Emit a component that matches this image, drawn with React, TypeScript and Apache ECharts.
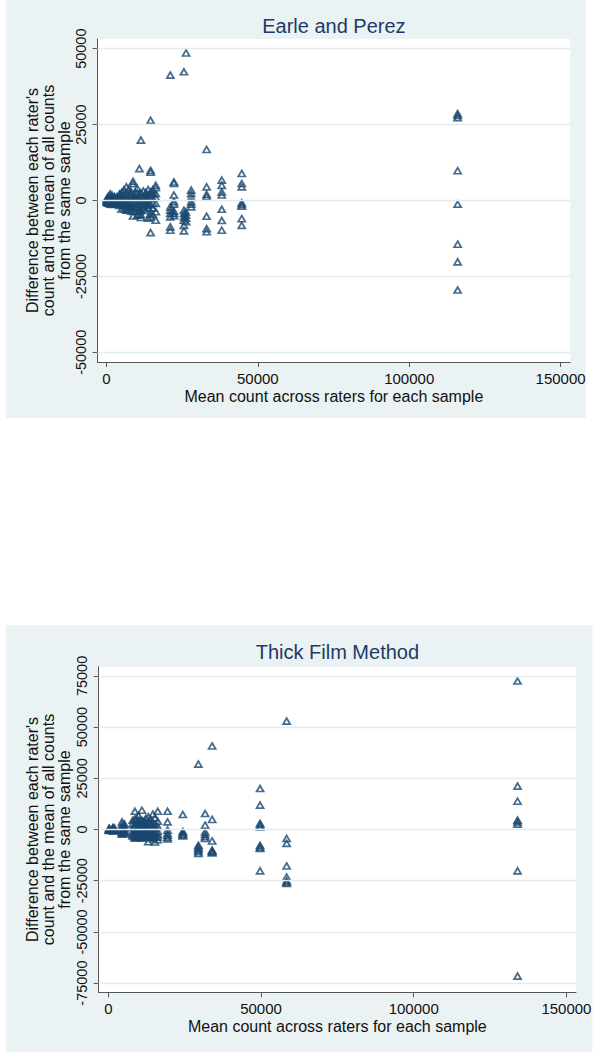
import React, { useEffect, useRef } from "react";
import * as echarts from "echarts";

// ---- tick labels ----
const xTicks = [0, 50000, 100000, 150000];
const epYTicks = [-50000, -25000, 0, 25000, 50000];
const tfYTicks = [-75000, -50000, -25000, 0, 25000, 50000, 75000];

// ---- Earle and Perez: mean count per sample, and each rater's difference ----
const epMeans = [
  200, 700, 1300, 1900, 2700, 3500, 4300, 5000, 5800, 6600, 7300, 8100, 8800, 9500,
  10200, 10900, 11400, 12200, 13000, 13800, 14600, 15300, 16300, 21100, 22300, 25600,
  26300, 28000, 33100, 38100, 44700, 116000,
];
const epDiffs = [
  [700, 400, 100, -200, -400, -600],
  [1500, 900, 300, -300, -700, -900],
  [2200, 1200, 300, -500, -900, -1200],
  [1700, 1000, 400, -300, -800, -1300],
  [1300, 700, 200, -400, -700, -1100],
  [1200, 600, 100, -300, -600, -900],
  [2100, 1300, 400, -500, -1000, -1600],
  [2600, 1500, 400, -700, -1300, -2800],
  [3500, 2000, 700, -800, -1700, -2700],
  [4500, 2400, 800, -1100, -2100, -3200],
  [3700, 1800, 500, -700, -1600, -3000],
  [3000, 2100, 1000, -900, -1800, -3400],
  [6300, 5500, 1500, -1800, -3600, -5100],
  [2700, 1400, 700, -500, -1300, -2600],
  [4000, 2500, 900, -1200, -2200, -4800],
  [10500, 2000, 300, -2200, -3400, -4600],
  [19900, 2500, -1500, -3200, -4700, -5600],
  [3100, 1300, 400, -700, -1400, -2800],
  [2600, 1100, -200, -900, -1600, -3300],
  [3600, 1900, 600, -1200, -2300, -5800],
  [26400, 9900, 9300, 2800, 1200, -1500, -4300, -5400, -10600],
  [3500, 2200, 800, -800, -2500, -4600],
  [5000, 4200, 2300, 1000, -1000, -3700, -6500],
  [41300, -2100, -3200, -4300, -5400, -8700, -9800],
  [6100, 5600, 1800, -400, -1200, -3500, -4300, -5000],
  [42400, -3200, -4300, -5400, -6500, -8200, -10000],
  [48600, -3800, -4800, -5800, -7000],
  [3400, 2300, 1000, -400, -1200, -2100],
  [16800, 4500, 2000, 1300, -5200, -9300, -10300],
  [6700, 5000, 2800, 1800, -2900, -6600, -9800],
  [8900, 5600, 4500, -800, -1400, -1900, -6000, -8200],
  [28600, 28000, 27300, 9800, -1200, -14400, -20200, -29500],
];

// ---- Thick Film Method ----
const tfMeans = [
  300, 1500, 2000, 4500, 5300, 8000, 8700, 9300, 9900, 10500, 11000, 11700, 12300,
  13100, 13800, 14600, 15300, 16200, 19400, 24400, 29500, 31700, 34000, 49700, 58400,
  134000,
];
const tfDiffs = [
  [600, 300, 100, -100, -300, -500],
  [900, 500, 100, -200, -500, -700],
  [700, 300, 0, -300, -600],
  [3700, 2500, 1200, -400, -1300, -2200, -2000],
  [2600, 1500, 300, -700, -1500, -2000, -1100],
  [4500, 2800, 900, -1000, -2500, -3200, -2300],
  [8900, 5200, 1800, -1500, -3200, -4300, -3600],
  [5200, 3400, 1200, -900, -2600, -3700, -2900],
  [6800, 4300, 1600, -1200, -2900, -3900, -3500],
  [4700, 2900, 700, -1400, -2700, -3600, -2100],
  [9400, 4300, 2100, -1500, -3300, -4200, -3800],
  [4100, 2400, 600, -1100, -2400, -3300, -2000],
  [5500, 3100, 1000, -900, -2300, -3500, -2700],
  [6200, 3900, 1300, -1500, -3000, -6000, -2600],
  [4800, 2700, 800, -1200, -2700, -3800, -2300],
  [7500, 3300, 1100, -1800, -3500, -4500, -2800],
  [5600, 2600, 600, -1400, -2900, -6100, -3700],
  [8900, 4000, 1500, -900, -2400, -3600, -5000],
  [8900, 3700, -300, -1900, -2800, -3700, -4600],
  [7300, -1000, -1600, -2200, -2700, -3100],
  [31900, -7700, -8400, -9200, -10000, -10800, -11700],
  [7800, 2100, -1200, -2400, -3500, -4400],
  [40800, 4900, -5600, -10100, -10600, -11000, -11400],
  [20000, 11900, 3000, 2300, 1300, -7700, -8600, -9300, -20200],
  [52900, -4400, -6800, -17800, -23200, -25100, -25800, -26400],
  [72500, 21200, 13800, 4600, 3700, 2600, -20200, -71600],
];

const titles = ["Earle and Perez", "Thick Film Method"];
const xTitle = "Mean count across raters for each sample";
const yTitle = "Difference between each rater's\ncount and the mean of all counts\nfrom the same sample";

const FONT = "'Liberation Sans', Arial, Helvetica, sans-serif";
const NAVY = "#1a476f";
const TITLE_C = "#1e3a66";
const PANEL = "#eaf2f3";
const GRIDC = "#e2ebee";
const AXIS_C = "#555";
const TEXT_C = "#111";

function points(means: number[], diffs: number[][]) {
  return means.flatMap((m, i) => diffs[i].map((d) => [m, d]));
}

export default function App() {
  const ref = useRef<HTMLDivElement>(null);
  useEffect(() => {
    if (!ref.current) return;
    const chart = echarts.init(ref.current, null, { renderer: "svg" });

    const mkX = (gi: number, min: number, max: number) => ({
      type: "value",
      gridIndex: gi,
      min,
      max,
      axisLine: { show: true, onZero: false, lineStyle: { color: AXIS_C, width: 1 } },
      axisTick: { show: true, length: 5, customValues: xTicks, lineStyle: { color: AXIS_C } },
      axisLabel: {
        customValues: xTicks,
        color: TEXT_C,
        fontSize: 15,
        fontFamily: FONT,
        margin: 9,
        formatter: (v: number) => String(v),
      },
      splitLine: { show: false },
      name: xTitle,
      nameLocation: "middle",
      nameGap: 26,
      nameTextStyle: { fontSize: 16, color: TEXT_C, fontFamily: FONT },
    });
    const mkY = (gi: number, lim: number, ticks: number[]) => ({
      type: "value",
      gridIndex: gi,
      min: -lim,
      max: lim,
      axisLine: { show: true, onZero: false, lineStyle: { color: AXIS_C, width: 1 } },
      axisTick: { show: true, length: 5, customValues: ticks, lineStyle: { color: AXIS_C } },
      axisLabel: {
        customValues: ticks,
        rotate: 90,
        color: TEXT_C,
        fontSize: 14.5,
        fontFamily: FONT,
        margin: 9,
        formatter: (v: number) => String(v),
      },
      splitLine: { show: false },
    });
    const gridSeries = (gi: number, ticks: number[]) => ({
      type: "scatter",
      xAxisIndex: gi,
      yAxisIndex: gi,
      data: [],
      z: 1,
      silent: true,
      markLine: {
        silent: true,
        symbol: ["none", "none"],
        label: { show: false },
        lineStyle: { color: GRIDC, width: 1.3, type: "solid" },
        emphasis: { disabled: true },
        data: ticks.map((v) => ({ yAxis: v })),
      },
    });
    const scatter = (gi: number, data: number[][]) => ({
      type: "scatter",
      xAxisIndex: gi,
      yAxisIndex: gi,
      data,
      z: 3,
      symbol: "triangle",
      symbolSize: [7, 6],
      itemStyle: { color: "rgba(255,255,255,0)", borderColor: NAVY, borderWidth: 1.75 },
    });

    const option: any = {
      animation: false,
      backgroundColor: "#ffffff",
      grid: [
        { left: 97.6, top: 39, width: 472.6, height: 323, show: true, backgroundColor: "#fff", borderWidth: 0 },
        { left: 98.7, top: 666.7, width: 477.3, height: 325.6, show: true, backgroundColor: "#fff", borderWidth: 0 },
      ],
      xAxis: [mkX(0, -2906, 153170), mkX(1, -3143, 153140)],
      yAxis: [mkY(0, 53200, epYTicks), mkY(1, 79500, tfYTicks)],
      series: [
        gridSeries(0, epYTicks),
        gridSeries(1, tfYTicks),
        scatter(0, points(epMeans, epDiffs)),
        scatter(1, points(tfMeans, tfDiffs)),
      ],
      graphic: [
        { type: "rect", z: -10, silent: true, shape: { x: 5.7, y: 0, width: 579.8, height: 418 }, style: { fill: PANEL } },
        { type: "rect", z: -10, silent: true, shape: { x: 5.7, y: 625, width: 586.7, height: 427 }, style: { fill: PANEL } },
        {
          type: "text", x: 333.9, y: 26, z: 10,
          style: { text: titles[0], fill: TITLE_C, fontSize: 20, fontFamily: FONT, align: "center", verticalAlign: "middle" },
        },
        {
          type: "text", x: 337.4, y: 652, z: 10,
          style: { text: titles[1], fill: TITLE_C, fontSize: 20, fontFamily: FONT, align: "center", verticalAlign: "middle" },
        },
        {
          type: "text", x: 48.7, y: 200.5, rotation: Math.PI / 2, z: 10,
          style: { text: yTitle, fill: TEXT_C, fontSize: 16, fontFamily: FONT, lineHeight: 16.3, align: "center", verticalAlign: "middle" },
        },
        {
          type: "text", x: 48.7, y: 829.5, rotation: Math.PI / 2, z: 10,
          style: { text: yTitle, fill: TEXT_C, fontSize: 16, fontFamily: FONT, lineHeight: 16.3, align: "center", verticalAlign: "middle" },
        },
      ],
    };
    chart.setOption(option);
    return () => chart.dispose();
  }, []);
  return (
    <div
      ref={ref}
      style={{ position: "absolute", left: 0, top: 0, width: 600, height: 1057, background: "#fff" }}
    />
  );
}
